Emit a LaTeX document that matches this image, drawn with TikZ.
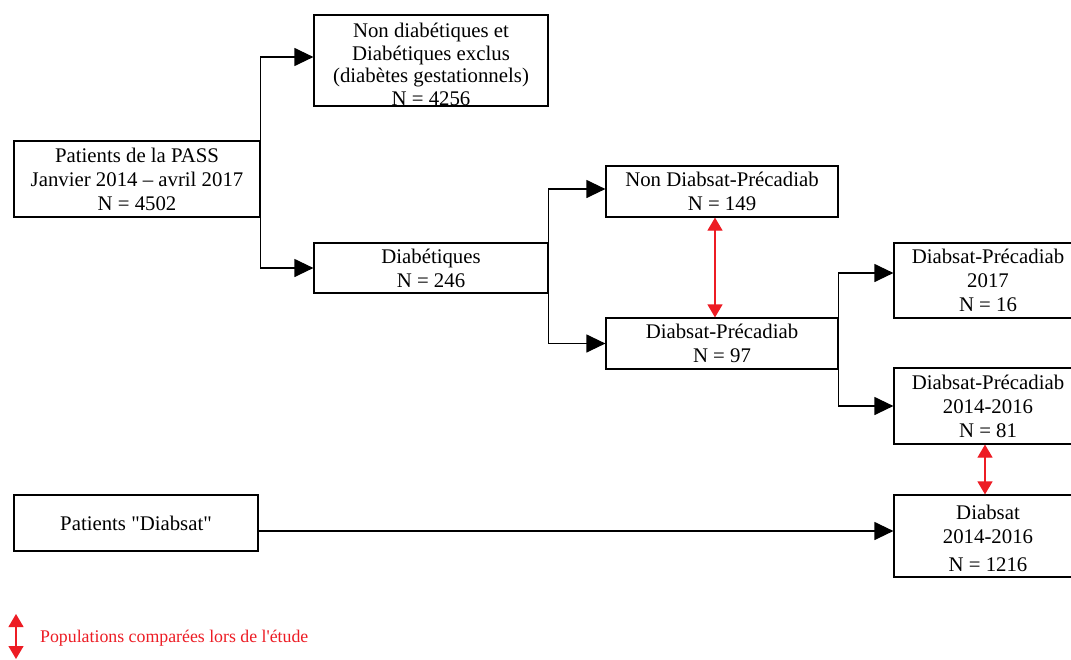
\documentclass[tikz,border=0pt]{standalone}
\usepackage{fontspec}
\setmainfont{Liberation Serif}[Ligatures=TeXOff]
\usetikzlibrary{arrows.meta}
\definecolor{legred}{RGB}{237,28,36}
\begin{document}
\begin{tikzpicture}[x=1pt,y=-1pt,
  box/.style={draw, line width=1.2pt, inner sep=0pt, align=center, font=\fontsize{20.8}{24}\selectfont},
  arr/.style={line width=1.2pt, -{Triangle[length=19pt,width=18pt]}},
  cmp/.style={draw=legred, line width=1.2pt, {Triangle[length=13pt,width=15pt,fill=legred]}-{Triangle[length=13pt,width=15pt,fill=legred]}}]
\clip (0,0) rectangle (1071,659);
\fill[white] (0,0) rectangle (1071,659);

\node[box, minimum width=246pt, minimum height=76pt] (A) at (137,179) {Patients de la PASS\\Janvier 2014 – avril 2017\\N = 4502};
\node[box, minimum width=234pt, minimum height=91pt, font=\fontsize{20.8}{22.5}\selectfont] (B) at (431,60.5) {\rule{0pt}{22.5pt}Non diabétiques et\\Diabétiques exclus\\(diabètes gestationnels)\\N = 4256};
\node[box, minimum width=234pt, minimum height=50pt] (C) at (431,268) {Diabétiques\\N = 246};
\node[box, minimum width=232pt, minimum height=51pt] (D) at (722,191.5) {Non Diabsat-Précadiab\\N = 149};
\node[box, minimum width=232pt, minimum height=51pt] (E) at (722,343.5) {Diabsat-Précadiab\\N = 97};
\node[box, minimum width=188pt, minimum height=75pt] (F) at (988,280.5) {Diabsat-Précadiab\\2017\\N = 16};
\node[box, minimum width=188pt, minimum height=76pt] (G) at (988,406) {Diabsat-Précadiab\\2014-2016\\N = 81};
\node[box, minimum width=188pt, minimum height=82pt] (H) at (988,536) {\rule{0pt}{20pt}Diabsat\\2014-2016\\[4pt]N = 1216};
\node[box, minimum width=244pt, minimum height=56pt] (I) at (136,523) {Patients "Diabsat"};

\draw[arr] (A.east) |- ([yshift=3.5pt]B.west);
\draw[arr] (A.east) |- (C.west);
\draw[arr] (C.east) |- ([yshift=2.5pt]D.west);
\draw[arr] (C.east) |- (E.west);
\draw[arr] (E.east) |- ([yshift=7.5pt]F.west);
\draw[arr] (E.east) |- (G.west);
\draw[arr] ([yshift=-8pt]I.east) -- ([yshift=-8pt]I.east -| H.west);

\draw[cmp] ([xshift=-7pt]D.south) -- ([xshift=-7pt]E.north);
\draw[cmp] ([xshift=-3pt]G.south) -- ([xshift=-3pt]H.north);

\coordinate (L1) at (16,614);
\coordinate (L2) at (16,659);
\draw[cmp] (L1) -- (L2);
\node[anchor=west, text=legred, font=\fontsize{17.8}{20}\selectfont, inner sep=0pt] (leg) at (40,638) {Populations comparées lors de l'étude};
\end{tikzpicture}
\end{document}
